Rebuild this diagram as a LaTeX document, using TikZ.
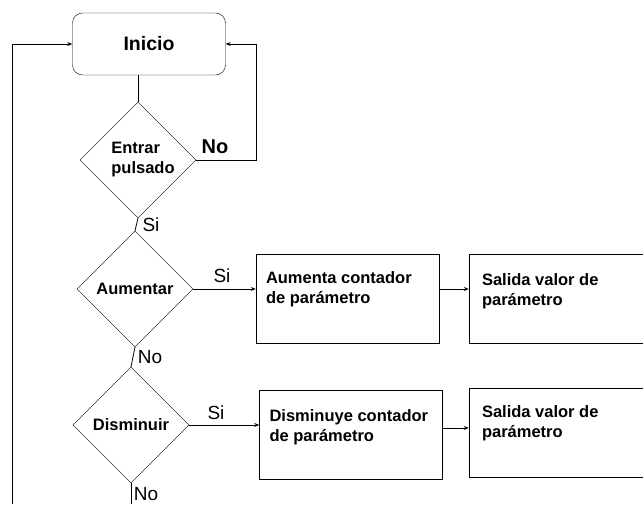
\documentclass[tikz,border=0pt]{standalone}
\usepackage{fontspec}
\setmainfont{Liberation Sans}
\usepackage{tikz}
\usetikzlibrary{arrows.meta,shapes.geometric}
\usepackage{xcolor}

\begin{document}
\begin{tikzpicture}[x=1pt,y=-1pt]

        \tikzset{
            start_box/.style={draw, rounded corners=10pt, minimum width=153pt, minimum height=62pt, font=\fontsize{19.5}{22}\selectfont\bfseries},
            decision/.style={draw, diamond, aspect=1, minimum size=116pt, inner sep=0pt, align=left, font=\fontsize{16.5}{20}\selectfont\bfseries},
            process/.style={draw, rectangle, minimum width=183pt, minimum height=89pt},
            process_text/.style={anchor=north west, inner sep=0pt, align=left, font=\fontsize{16.5}{20}\selectfont\bfseries},
            answer/.style={inner sep=0pt, font=\fontsize{19}{22}\selectfont},
            flow/.style={-{Stealth[length=5pt,width=4pt]}, line width=0.8pt},
            connect/.style={-, line width=0.8pt}
        }

        \useasboundingbox (0,0) rectangle (643,504);

        \node[start_box] (inicio) at (149, 44) {Inicio};

        \node[decision] (entrar) at (138, 160) {\hspace{10pt}Entrar\\\hspace{10pt}pulsado};
        \node[decision] (aumentar) at (135, 289) {Aumentar};
        \node[decision] (disminuir) at (131, 425) {Disminuir};

        \node[process] (aumenta) at (347.5, 298.5) {};
        \node[process] (salida1) at (560.5, 298.5) {};
        \node[process] (disminuye) at (351, 435) {};
        \node[process] (salida2) at (560.5, 432.5) {};

        \node[process_text] (aumenta_txt) at ([shift={(10,18)}]aumenta.north west) {Aumenta contador\\de parámetro};
        \node[process_text] (salida1_txt) at ([shift={(13,20)}]salida1.north west) {Salida valor de\\parámetro};
        \node[process_text] (disminuye_txt) at ([shift={(10,19)}]disminuye.north west) {Disminuye contador\\de parámetro};
        \node[process_text] (salida2_txt) at ([shift={(13,18)}]salida2.north west) {Salida valor de\\parámetro};

        \coordinate (noloop) at (256, 160);
        \coordinate (backbottom) at (12, 504);
        \coordinate (disend) at (131, 504);

        \draw[connect] (entrar.north |- inicio.south) -- (entrar.north);
        \draw[flow] (entrar.east) -- (noloop) |- (inicio.east);
        \draw[connect] (entrar.south) -- (aumentar.north);
        \draw[connect] (aumentar.south) -- (disminuir.north);
        \draw[connect] (disminuir.south) -- (disend);
        \draw[flow] (backbottom) |- (inicio.west);

        \draw[flow] (aumentar.east) -- (aumentar.east -| aumenta.west);
        \draw[flow] (aumentar.east -| aumenta.east) -- (aumentar.east -| salida1.west);
        \draw[flow] (disminuir.east) -- (disminuir.east -| disminuye.west);
        \draw[flow] ([yshift=-3]disminuir.east -| disminuye.east) -- ([yshift=-3]disminuir.east -| salida2.west);

        \node[answer, font=\fontsize{20}{22}\selectfont\bfseries] (no_entrar) at (215, 147) {No};
        \node[answer] (si_entrar) at (151, 225) {Si};
        \node[answer] (si_aumentar) at (222, 276) {Si};
        \node[answer] (no_aumentar) at (150, 357) {No};
        \node[answer] (si_disminuir) at (216, 413) {Si};
        \node[answer] (no_disminuir) at (146, 494) {No};

    \end{tikzpicture}
\end{document}
